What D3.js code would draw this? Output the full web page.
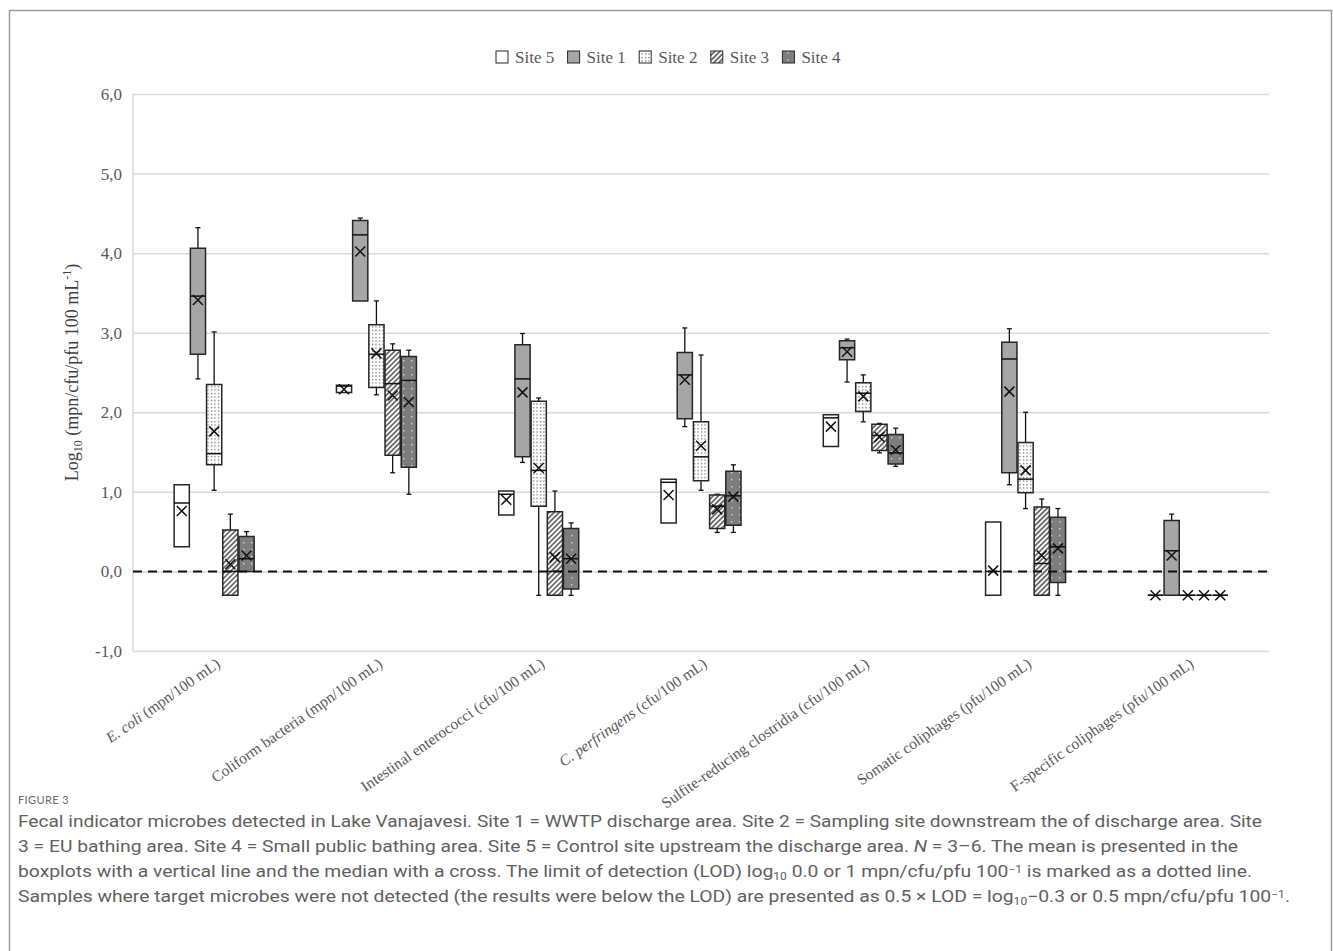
<!DOCTYPE html>
<html>
<head>
<meta charset="utf-8">
<script src="https://cdn.jsdelivr.net/npm/d3@7"></script>
<style>
  body { margin: 0; background: #fff; }
  svg { display: block; }
</style>
</head>
<body>
<svg id="chart" width="1333" height="951"></svg>
<script>
// Categories (x axis), italic part + unit part
const categoryNames = ['E. coli', 'Coliform bacteria', 'Intestinal enterococci', 'C. perfringens',
  'Sulfite-reducing clostridia', 'Somatic coliphages', 'F-specific coliphages'];
const categoryUnits = ['(mpn/100 mL)', '(mpn/100 mL)', '(cfu/100 mL)', '(cfu/100 mL)',
  '(cfu/100 mL)', '(pfu/100 mL)', '(pfu/100 mL)'];
const categoryItalic = [true, false, false, true, false, false, false];

const sites = ['Site 5', 'Site 1', 'Site 2', 'Site 3', 'Site 4'];

// each row: [whisker low, Q1, median, Q3, whisker high, mean (x marker)]
const site5 = [
  [0.31, 0.31, 0.86, 1.09, 1.09, 0.76],
  [2.25, 2.25, 2.33, 2.34, 2.34, 2.29],
  [0.71, 0.71, 0.97, 1.01, 1.01, 0.90],
  [0.61, 0.61, 1.12, 1.16, 1.16, 0.96],
  [1.57, 1.57, 1.93, 1.97, 1.97, 1.82],
  [-0.3, -0.3, 0.0, 0.62, 0.62, 0.01],
  [-0.3, -0.3, -0.3, -0.3, -0.3, -0.3]
];
const site1 = [
  [2.42, 2.73, 3.46, 4.06, 4.32, 3.41],
  [3.40, 3.40, 4.23, 4.41, 4.44, 4.02],
  [1.37, 1.44, 2.42, 2.85, 2.99, 2.25],
  [1.82, 1.92, 2.47, 2.75, 3.06, 2.41],
  [2.38, 2.66, 2.81, 2.90, 2.92, 2.76],
  [1.09, 1.24, 2.67, 2.88, 3.05, 2.26],
  [-0.3, -0.3, 0.26, 0.64, 0.72, 0.20]
];
const site2 = [
  [1.02, 1.34, 1.48, 2.35, 3.01, 1.76],
  [2.22, 2.31, 2.73, 3.10, 3.40, 2.74],
  [-0.3, 0.82, 1.27, 2.14, 2.18, 1.30],
  [1.02, 1.14, 1.44, 1.88, 2.72, 1.58],
  [1.88, 2.01, 2.24, 2.37, 2.47, 2.20],
  [0.79, 0.99, 1.16, 1.62, 2.00, 1.27],
  [-0.3, -0.3, -0.3, -0.3, -0.3, -0.3]
];
const site3 = [
  [-0.3, -0.3, 0.0, 0.52, 0.72, 0.09],
  [1.24, 1.46, 2.36, 2.78, 2.86, 2.21],
  [-0.3, -0.3, 0.0, 0.75, 1.01, 0.18],
  [0.49, 0.54, 0.82, 0.96, 0.97, 0.78],
  [1.49, 1.52, 1.71, 1.85, 1.86, 1.69],
  [-0.3, -0.3, 0.10, 0.81, 0.91, 0.20],
  [-0.3, -0.3, -0.3, -0.3, -0.3, -0.3]
];
const site4 = [
  [0.0, 0.0, 0.16, 0.44, 0.50, 0.20],
  [0.97, 1.31, 2.40, 2.70, 2.78, 2.13],
  [-0.3, -0.22, 0.16, 0.54, 0.61, 0.16],
  [0.49, 0.58, 0.95, 1.26, 1.34, 0.94],
  [1.32, 1.35, 1.49, 1.72, 1.80, 1.53],
  [-0.3, -0.14, 0.31, 0.68, 0.79, 0.29],
  [-0.3, -0.3, -0.3, -0.3, -0.3, -0.3]
];
const siteData = [site5, site1, site2, site3, site4];

const yTicks = [-1, 0, 1, 2, 3, 4, 5, 6];
const lodValue = 0;

const svg = d3.select('#chart');
const serif = '"Liberation Serif", "Times New Roman", serif';

// outer frame
svg.append('rect')
  .attr('x', 9.5).attr('y', 10.5).attr('width', 1322).attr('height', 960)
  .attr('fill', 'none').attr('stroke', '#9a9a9a').attr('stroke-width', 1.5);

// patterns
const defs = svg.append('defs');
const dots = defs.append('pattern').attr('id', 'dots')
  .attr('patternUnits', 'userSpaceOnUse').attr('width', 3.5).attr('height', 3.5);
dots.append('rect').attr('width', 3.5).attr('height', 3.5).attr('fill', '#fff');
dots.append('rect').attr('x', 1).attr('y', 1).attr('width', 1.1).attr('height', 1.1).attr('fill', '#3a3a3a');

const hatch = defs.append('pattern').attr('id', 'hatch')
  .attr('patternUnits', 'userSpaceOnUse').attr('width', 3.6).attr('height', 3.6)
  .attr('patternTransform', 'rotate(45)');
hatch.append('rect').attr('width', 3.6).attr('height', 3.6).attr('fill', '#fff');
hatch.append('line').attr('x1', 1.8).attr('y1', 0).attr('x2', 1.8).attr('y2', 3.6)
  .attr('stroke', '#333').attr('stroke-width', 1.3);

const darkDots = defs.append('pattern').attr('id', 'darkdots')
  .attr('patternUnits', 'userSpaceOnUse').attr('width', 8).attr('height', 14);
darkDots.append('rect').attr('width', 8).attr('height', 14).attr('fill', '#7d7d7d');
darkDots.append('rect').attr('x', 3).attr('y', 3).attr('width', 1.4).attr('height', 1.4).attr('fill', '#d6d6d6');
darkDots.append('rect').attr('x', 3).attr('y', 10).attr('width', 1.4).attr('height', 1.4).attr('fill', '#d6d6d6');

const siteFill = ['#ffffff', '#a6a6a6', 'url(#dots)', 'url(#hatch)', 'url(#darkdots)'];

// scales
const margin = { left: 133, right: 1269, top: 94, bottom: 651 };
const x = d3.scaleBand().domain(categoryNames).range([margin.left, margin.right]).padding(0);
const y = d3.scaleLinear().domain([-1, 6]).range([margin.bottom, margin.top]);
const sub = d3.scaleBand().domain(sites).range([-40, 40]).paddingInner(1 / 16);
const boxW = sub.bandwidth();

// gridlines
svg.append('g')
  .attr('transform', `translate(${margin.left},0)`)
  .call(d3.axisLeft(y).tickValues(yTicks).tickSize(-(margin.right - margin.left)).tickFormat(''))
  .call(g => g.select('.domain').remove())
  .call(g => g.selectAll('.tick line').attr('stroke', '#d9d9d9').attr('stroke-width', 1.5));

svg.append('line')
  .attr('x1', margin.left).attr('x2', margin.left)
  .attr('y1', margin.top).attr('y2', margin.bottom)
  .attr('stroke', '#d9d9d9').attr('stroke-width', 1.5);

// y axis labels
svg.append('g')
  .attr('transform', `translate(${margin.left},0)`)
  .call(d3.axisLeft(y).tickValues(yTicks).tickSize(0).tickPadding(11)
    .tickFormat(d => d.toFixed(1).replace('.', ',')))
  .call(g => g.select('.domain').remove())
  .call(g => g.selectAll('text')
    .style('font-family', serif).style('font-size', '17px').attr('fill', '#595959'));

// y title
const yTitle = svg.append('text')
  .attr('transform', `translate(78,${(margin.top + margin.bottom) / 2}) rotate(-90)`)
  .attr('text-anchor', 'middle')
  .style('font-family', serif).style('font-size', '18px').attr('fill', '#404040');
yTitle.append('tspan').text('Log');
yTitle.append('tspan').attr('font-size', '12px').attr('dy', 4).text('10');
yTitle.append('tspan').attr('dy', -4).text(' (mpn/cfu/pfu 100 mL');
yTitle.append('tspan').attr('font-size', '12px').attr('dy', -7).text('-1');
yTitle.append('tspan').attr('dy', 7).text(')');

// boxes
const plot = svg.append('g');
siteData.forEach((rows, si) => {
  const g = plot.append('g');
  rows.forEach((r, ci) => {
    const [lo, q1, med, q3, hi, mean] = r;
    const x0 = x(categoryNames[ci]) + x.bandwidth() / 2 + sub(sites[si]);
    const xc = x0 + boxW / 2;
    // whiskers
    [[hi, q3], [lo, q1]].forEach(([w, q]) => {
      if (Math.abs(w - q) < 0.005) return;
      g.append('line').attr('x1', xc).attr('x2', xc).attr('y1', y(w)).attr('y2', y(q))
        .attr('stroke', '#111').attr('stroke-width', 1.3);
      g.append('line').attr('x1', xc - 2.5).attr('x2', xc + 2.5).attr('y1', y(w)).attr('y2', y(w))
        .attr('stroke', '#111').attr('stroke-width', 1.3);
    });
    g.append('rect')
      .attr('x', x0).attr('y', y(q3)).attr('width', boxW).attr('height', Math.max(0, y(q1) - y(q3)))
      .attr('fill', siteFill[si]);
    g.append('path')
      .attr('d', `M${x0},${y(q3)}H${x0 + boxW}V${y(q1)}H${x0}Z`)
      .attr('fill', 'none').attr('stroke', '#262626').attr('stroke-width', 1.5);
    g.append('line')
      .attr('x1', x0).attr('x2', x0 + boxW).attr('y1', y(med)).attr('y2', y(med))
      .attr('stroke', '#111').attr('stroke-width', 1.5);
  });
});

// LOD dashed line
svg.append('line')
  .attr('x1', margin.left).attr('x2', margin.right)
  .attr('y1', y(lodValue)).attr('y2', y(lodValue))
  .attr('stroke', '#111').attr('stroke-width', 2).attr('stroke-dasharray', '9,6');

// mean markers
siteData.forEach((rows, si) => {
  rows.forEach((r, ci) => {
    const xc = x(categoryNames[ci]) + x.bandwidth() / 2 + sub(sites[si]) + boxW / 2;
    const yc = y(r[5]);
    const s = 5;
    plot.append('path')
      .attr('d', `M${xc - s},${yc - s}L${xc + s},${yc + s}M${xc - s},${yc + s}L${xc + s},${yc - s}`)
      .attr('stroke', '#111').attr('stroke-width', 1.5).attr('fill', 'none');
  });
});

// x labels
categoryNames.forEach((name, i) => {
  const t = svg.append('text')
    .attr('transform', `translate(${x(name) + x.bandwidth() / 2 + 7},666) rotate(-35)`)
    .attr('text-anchor', 'end')
    .style('font-family', serif).style('font-size', '15.5px').attr('fill', '#595959');
  t.append('tspan').style('font-style', categoryItalic[i] ? 'italic' : 'normal').text(name);
  t.append('tspan').text(' ' + categoryUnits[i]);
});

// legend
const legend = svg.append('g');
sites.forEach((s, i) => {
  const lx = 496 + i * 71.6;
  legend.append('rect').attr('x', lx).attr('y', 51).attr('width', 12).attr('height', 12)
    .attr('fill', siteFill[i]).attr('stroke', '#262626').attr('stroke-width', 1);
  legend.append('text').attr('x', lx + 19).attr('y', 63)
    .style('font-family', serif).style('font-size', '17px').attr('fill', '#595959').text(s);
});

// caption
const sans = '"Liberation Sans Narrow", Roboto, sans-serif';
svg.append('text').attr('x', 18).attr('y', 804)
  .style('font-family', 'Lato, sans-serif').style('font-size', '11px').style('letter-spacing', '0.4px')
  .attr('fill', '#6b6b6b').text('FIGURE 3');

const captionLines = [
  [{ t: 'Fecal indicator microbes detected in Lake Vanajavesi. Site 1 = WWTP discharge area. Site 2 = Sampling site downstream the of discharge area. Site' }],
  [{ t: '3 = EU bathing area. Site 4 = Small public bathing area. Site 5 = Control site upstream the discharge area. ' }, { t: 'N', i: true }, { t: ' = 3–6. The mean is presented in the' }],
  [{ t: 'boxplots with a vertical line and the median with a cross. The limit of detection (LOD) log' }, { t: '10', sub: true }, { t: ' 0.0 or 1 mpn/cfu/pfu 100' }, { t: '−1', sup: true }, { t: ' is marked as a dotted line.' }],
  [{ t: 'Samples where target microbes were not detected (the results were below the LOD) are presented as 0.5 × LOD = log' }, { t: '10', sub: true }, { t: '−0.3 or 0.5 mpn/cfu/pfu 100' }, { t: '−1', sup: true }, { t: '.' }]
];
const captionEnds = [1262, 1238, 1252, 1290];

captionLines.forEach((segs, li) => {
  const t = svg.append('text').attr('x', 18).attr('y', 827 + li * 25)
    .style('font-family', sans).style('font-size', '16px').attr('fill', '#5f5f5f');
  segs.forEach(sg => {
    const ts = t.append('tspan').text(sg.t);
    if (sg.i) ts.style('font-style', 'italic');
    if (sg.sub) ts.attr('font-size', '10px').attr('baseline-shift', '-25%');
    if (sg.sup) ts.attr('font-size', '10px').attr('baseline-shift', '45%');
  });
  t.attr('textLength', captionEnds[li] - 18).attr('lengthAdjust', 'spacingAndGlyphs');
});
</script>
</body>
</html>
